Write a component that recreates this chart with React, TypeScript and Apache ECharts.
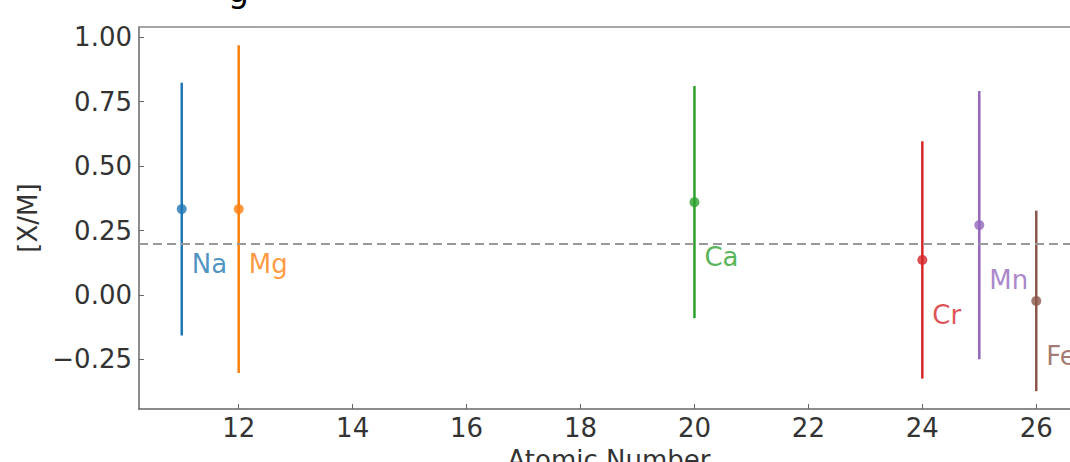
import React, { useEffect, useRef } from "react";
import * as echarts from "echarts";

const elements = ["Na", "Mg", "Ca", "Cr", "Mn", "Fe"];
const atomicNumbers = [11, 12, 20, 24, 25, 26];
const abundances = [0.333, 0.333, 0.36, 0.136, 0.271, -0.023];
const errors = [0.49, 0.635, 0.45, 0.46, 0.52, 0.35];
const colors = ["#1f77b4", "#ff7f0e", "#2ca02c", "#d62728", "#9467bd", "#8c564b"];
const xTicks = [12, 14, 16, 18, 20, 22, 24, 26];
const yTicks = [-0.25, 0, 0.25, 0.5, 0.75, 1.0];
const referenceLevel = 0.2;

const FONT = "DejaVu Sans";

export default function App() {
  const ref = useRef<HTMLDivElement>(null);
  useEffect(() => {
    document.body.style.margin = "0";
    document.documentElement.style.overflow = "hidden";
    document.body.style.overflow = "hidden";
    const chart = echarts.init(ref.current!, undefined, { renderer: "svg" });
    const fmtY = (v: number) => {
      const s = Math.abs(v).toFixed(2);
      return v < 0 ? "\u2212" + s : s;
    };
    const errData = atomicNumbers.map((x, i) => [x, abundances[i] - errors[i], abundances[i] + errors[i], i]);
    const ptData = atomicNumbers.map((x, i) => ({
      value: [x, abundances[i]],
      name: elements[i],
      itemStyle: { color: colors[i] },
      label: { color: colors[i] },
    }));
    chart.setOption({
      animation: false,
      backgroundColor: "#ffffff",
      textStyle: { fontFamily: FONT },
      grid: { left: 139, top: 27, bottom: 53, right: 21, outerBoundsMode: "none", containLabel: false },
      graphic: [
        {
          type: "text",
          left: 228,
          top: -26,
          style: { text: "g", font: `33px "${FONT}"`, fill: "#000" },
          silent: true,
        },
      ],
      xAxis: [
        {
          type: "value",
          min: 10.25,
          max: 26.75,
          name: "Atomic Number",
          nameLocation: "middle",
          nameGap: 38,
          nameTextStyle: { fontSize: 26, color: "#333", fontFamily: FONT },
          axisLine: { show: true, onZero: false, lineStyle: { color: "#666", width: 1.5 } },
          axisTick: { show: true, inside: true, length: 5, customValues: xTicks, lineStyle: { color: "#666" } },
          axisLabel: { customValues: xTicks, fontSize: 26, color: "#333", margin: 6, fontFamily: FONT },
          splitLine: { show: false },
        },
        {
          type: "value",
          position: "top",
          min: 10.25,
          max: 26.75,
          axisLine: { show: true, onZero: false, lineStyle: { color: "#888", width: 1.5 } },
          axisTick: { show: false },
          axisLabel: { show: false },
          splitLine: { show: false },
        },
      ],
      yAxis: {
        type: "value",
        min: -0.442,
        max: 1.039,
        name: "[X/M]",
        nameLocation: "middle",
        nameGap: 95,
        nameTextStyle: { fontSize: 26, color: "#333", fontFamily: FONT },
        axisLine: { show: true, onZero: false, lineStyle: { color: "#666", width: 1.5 } },
        axisTick: { show: true, inside: true, length: 5, customValues: yTicks, lineStyle: { color: "#666" } },
        axisLabel: { customValues: yTicks, fontSize: 26, color: "#333", margin: 7, formatter: fmtY, fontFamily: FONT },
        splitLine: { show: false },
      },
      series: [
        {
          type: "custom",
          xAxisIndex: 0,
          data: errData,
          renderItem: (params: any, api: any) => {
            const x = api.value(0);
            const p1 = api.coord([x, api.value(1)]);
            const p2 = api.coord([x, api.value(2)]);
            const idx = api.value(3);
            return {
              type: "line",
              shape: { x1: p1[0], y1: p1[1], x2: p2[0], y2: p2[1] },
              style: { stroke: colors[idx], lineWidth: 2.5 },
            };
          },
          markLine: {
            silent: true,
            symbol: "none",
            label: { show: false },
            lineStyle: { type: [9, 5], color: "#999", width: 2 },
            data: [{ yAxis: referenceLevel }],
          },
        },
        {
          type: "scatter",
          xAxisIndex: 0,
          symbolSize: 10,
          data: ptData,
          label: {
            show: true,
            position: "inside",
            align: "left",
            verticalAlign: "middle",
            offset: [10, 55],
            fontSize: 26,
            fontFamily: FONT,
            formatter: (p: any) => p.name,
          },
        },
      ],
    });
    return () => chart.dispose();
  }, []);
  return <div ref={ref} style={{ position: "fixed", left: 0, top: 0, width: 1100, height: 462 }} />;
}
